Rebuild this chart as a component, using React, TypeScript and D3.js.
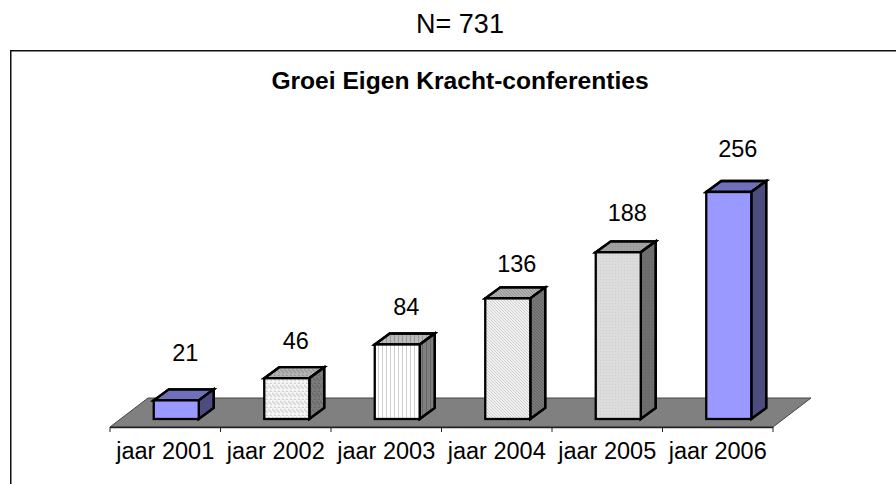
import * as d3 from "d3";

const years = ["jaar 2001", "jaar 2002", "jaar 2003", "jaar 2004", "jaar 2005", "jaar 2006"];
const counts = [21, 46, 84, 136, 188, 256];
const fills = ["#9999ff", "url(#weave)", "url(#vert)", "url(#diag)", "url(#dots)", "#9999ff"];
const labelGaps = [39, 29, 30, 26, 31, 35];

const FONT = "'Liberation Sans', Arial, sans-serif";
const W = 896, H = 484;
const BAR_W = 45, DX = 15, DY = 11;
const FLOOR_DX = 38, FLOOR_DY = 29;
const FLOOR_Y = 427, BASE_Y = 419;

const x = d3.scaleBand<string>().domain(years).range([110, 773]);
const y = d3.scaleLinear().domain([0, 256]).range([BASE_Y, 192]);

const poly = (pts: [number, number][]) => d3.line()(pts) + "Z";

export default function App() {
  const band = x.bandwidth();
  const floor = poly([
    [110, FLOOR_Y],
    [110 + FLOOR_DX, FLOOR_Y - FLOOR_DY],
    [773 + FLOOR_DX, FLOOR_Y - FLOOR_DY],
    [773, FLOOR_Y],
  ]);
  const ticks = [...years.map(d => x(d)!), 773];

  return (
    <svg width={W} height={H} style={{ position: "absolute", left: 0, top: 0, background: "#fff" }} fontFamily={FONT}>
      <defs>
        <pattern id="weave" width="8" height="8" patternUnits="userSpaceOnUse">
          <rect width="8" height="8" fill="#f6f6f6" />
          <path d="M0 1L4 5M4 1L8 5M2 7L4 8M6 7L8 8" stroke="#d2d2d2" strokeWidth="1.4" fill="none" />
        </pattern>
        <pattern id="vert" width="4" height="4" patternUnits="userSpaceOnUse">
          <rect width="4" height="4" fill="#fff" />
          <rect x="2" width="1" height="4" fill="#cfcfcf" />
        </pattern>
        <pattern id="diag" width="3" height="3" patternUnits="userSpaceOnUse">
          <rect width="3" height="3" fill="#f2f2f2" />
          <path d="M0 0L3 3" stroke="#cdcdcd" strokeWidth="1" />
        </pattern>
        <pattern id="dots" width="3" height="3" patternUnits="userSpaceOnUse">
          <rect width="3" height="3" fill="#dcdcdc" />
          <rect width="1" height="1" fill="#cdcdcd" />
        </pattern>
      </defs>

      <text x={460} y={33} textAnchor="middle" fontSize={27}>N= 731</text>

      <path d={`M10.75 ${H}V50.75H${W}`} fill="none" stroke="#111" strokeWidth={1.5} />
      <text x={460} y={89} textAnchor="middle" fontSize={24.6} fontWeight="bold">Groei Eigen Kracht-conferenties</text>

      <path d={floor} fill="#808080" stroke="#444" strokeWidth={1} />
      <line x1={110} x2={773} y1={FLOOR_Y + 0.5} y2={FLOOR_Y + 0.5} stroke="#222" strokeWidth={1.3} />
      {ticks.map(t => (
        <line key={t} x1={t} x2={t} y1={FLOOR_Y} y2={FLOOR_Y + 5} stroke="#222" strokeWidth={1} />
      ))}

      {years.map((d, i) => {
        const bx = x(d)! + (band - BAR_W) / 2 + 11;
        const top = y(counts[i]);
        const right = bx + BAR_W;
        const topFace = poly([[bx, top], [bx + DX, top - DY], [right + DX, top - DY], [right, top]]);
        const sideFace = poly([[right, top], [right + DX, top - DY], [right + DX, BASE_Y - DY], [right, BASE_Y]]);
        return (
          <g key={d} stroke="#000" strokeWidth={2.3} strokeLinejoin="miter">
            <path d={topFace} fill={fills[i]} />
            <path d={topFace} fill="#000" fillOpacity={0.27} />
            <path d={sideFace} fill={fills[i]} />
            <path d={sideFace} fill="#000" fillOpacity={0.5} />
            <rect x={bx} y={top} width={BAR_W} height={BASE_Y - top} fill={fills[i]} />
          </g>
        );
      })}

      {years.map((d, i) => (
        <text key={d} x={x(d)! + band / 2 + 20} y={y(counts[i]) - labelGaps[i]} textAnchor="middle" fontSize={23.5}>
          {counts[i]}
        </text>
      ))}
      {years.map(d => (
        <text key={d} x={x(d)! + band / 2} y={459} textAnchor="middle" fontSize={23.5}>{d}</text>
      ))}
    </svg>
  );
}
